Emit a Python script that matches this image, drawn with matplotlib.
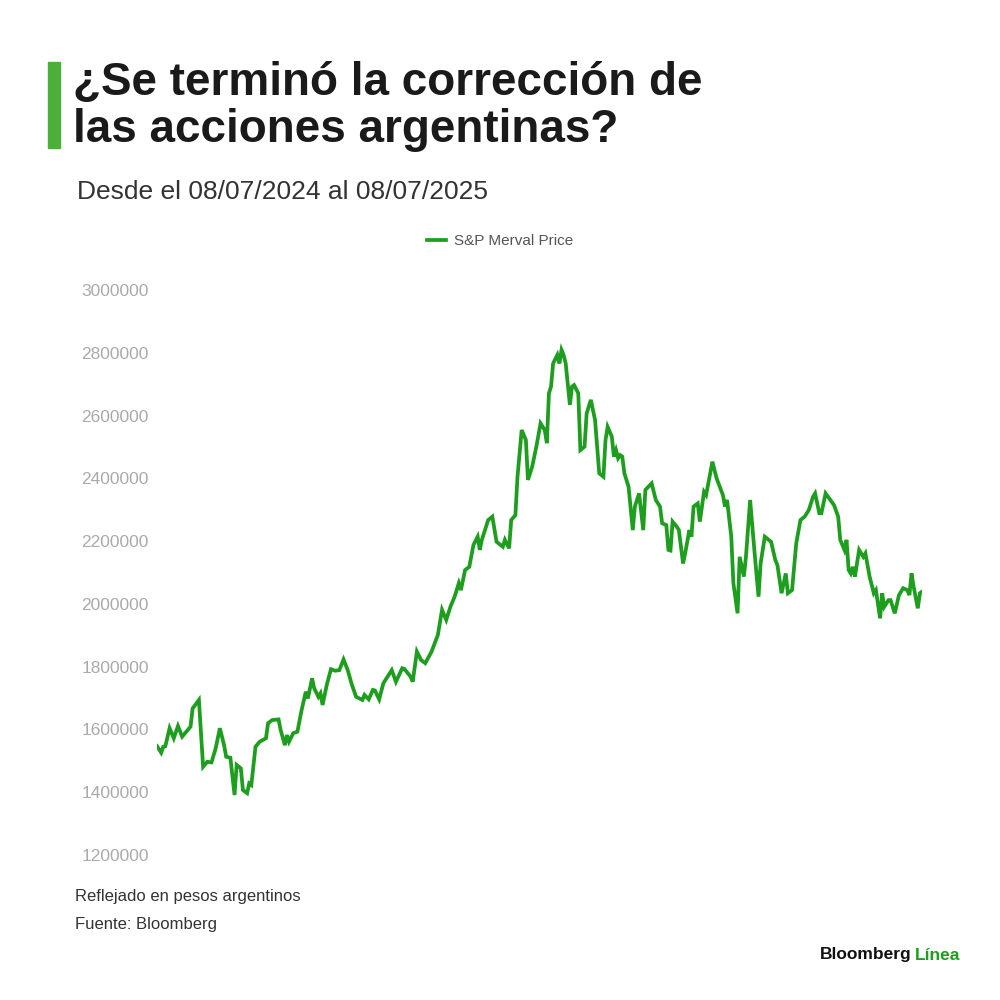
import pandas as pd
import matplotlib.pyplot as plt

# S&P Merval, days since 08/07/2024 and price in pesos
start_date = "2024-07-08"
days = [
    0, 2, 3, 4, 6, 8, 10, 12, 14, 16, 17, 20, 22, 24, 26, 28, 30, 32, 33, 35,
    37, 38, 40, 41, 43, 44, 45, 47, 49, 52, 53, 55, 58, 59, 61, 62, 63, 65, 67, 69,
    71, 72, 74, 75, 77, 78, 79, 81, 83, 85, 87, 89, 91,
    93, 95, 98, 99, 101, 103, 104, 106, 108, 110, 112, 114, 117, 118, 121, 122, 124, 126, 128, 131,
    134, 136, 138, 140, 142, 144, 145, 147, 149, 151, 153, 154, 155, 158, 160, 162, 165, 166, 168,
    169, 171, 172, 174, 176, 177, 179, 181, 183, 185, 186, 187, 188, 189, 191, 192, 193, 194, 195, 197,
    198, 199, 201, 202, 204, 205, 207, 209, 211, 213, 214, 215, 217, 218, 219, 220, 221, 222, 223, 225,
    227, 228, 230, 232, 233, 236, 238, 240, 241, 243, 244, 245, 246, 248, 249, 251, 252, 254, 255, 256,
    258,
    259, 261, 262, 265, 267, 270, 271, 272, 274, 275, 277, 278, 280, 281, 283, 285, 287, 288, 290, 293,
    295, 296, 298, 300, 301, 303, 305, 307, 309, 311, 313, 314, 316, 317, 319, 323, 325, 326, 328, 329,
    330, 331, 332, 333, 335, 337, 338, 340, 342, 343, 345, 346, 347, 349, 350, 352, 354, 356, 358, 359,
    360, 361, 363, 364, 365,
]
prices = [
    1547000, 1526000, 1545000, 1547000, 1604000, 1572000, 1611000, 1577000, 1593000, 1609000,
    1667000, 1694000, 1481000, 1497000, 1495000, 1540000, 1604000, 1550000, 1513000, 1510000,
    1391000, 1487000, 1476000, 1407000, 1397000, 1428000, 1423000, 1545000, 1561000, 1572000,
    1620000, 1630000, 1632000, 1598000, 1550000, 1582000, 1561000, 1588000, 1593000, 1662000,
    1720000, 1699000, 1763000, 1731000, 1704000, 1715000, 1678000, 1742000, 1792000, 1787000,
    1789000, 1823000, 1789000,
    1742000, 1704000, 1694000, 1710000, 1696000, 1726000, 1724000, 1696000, 1747000, 1768000,
    1789000, 1752000, 1795000, 1793000, 1768000, 1752000, 1848000, 1821000, 1811000, 1848000,
    1901000, 1981000, 1949000, 1991000, 2023000, 2066000, 2044000, 2108000, 2118000, 2188000,
    2214000, 2172000, 2204000, 2267000, 2278000, 2198000, 2182000, 2204000, 2177000,
    2267000, 2283000, 2405000, 2554000, 2522000, 2395000, 2437000, 2501000, 2575000, 2554000,
    2512000, 2671000, 2692000, 2766000, 2793000, 2766000, 2809000, 2793000, 2766000, 2634000,
    2692000, 2697000, 2671000, 2490000, 2501000, 2607000, 2650000, 2586000, 2416000, 2405000,
    2522000, 2564000, 2533000, 2469000, 2490000, 2464000, 2474000, 2469000, 2416000, 2373000,
    2235000, 2310000, 2352000, 2235000, 2363000, 2384000, 2331000, 2310000, 2257000, 2251000,
    2172000, 2170000, 2262000, 2246000, 2235000, 2129000, 2161000, 2235000, 2214000, 2310000,
    2320000,
    2262000, 2357000, 2347000, 2453000, 2400000, 2347000, 2310000, 2331000, 2214000, 2066000,
    1970000, 2150000, 2087000, 2150000, 2331000, 2172000, 2023000, 2129000, 2214000, 2198000,
    2140000, 2124000, 2034000, 2097000, 2034000, 2044000, 2193000, 2267000, 2278000, 2299000,
    2341000, 2352000, 2289000, 2289000, 2352000, 2315000, 2278000, 2204000, 2172000, 2204000,
    2108000, 2097000, 2118000, 2087000, 2172000, 2150000, 2161000, 2087000, 2034000, 2044000,
    1954000, 2034000, 1991000, 2012000, 2012000, 1970000, 2028000, 2050000, 2044000, 2028000,
    2097000, 2055000, 1986000, 2034000, 2039000,
]
yticks = list(range(1200000, 3000001, 200000))

dates = pd.Timestamp(start_date) + pd.to_timedelta(days, unit="D")

GREEN = "#1e9e1e"
BAR_GREEN = "#4caf3a"

plt.rcParams["font.family"] = ["Liberation Sans", "DejaVu Sans"]

fig = plt.figure(figsize=(10, 10), dpi=100)
fig.patch.set_facecolor("white")

# title block
fig.patches.append(plt.Rectangle((0.048, 0.852), 0.012, 0.086, transform=fig.transFigure,
                                 color=BAR_GREEN, zorder=5))
fig.text(0.073, 0.905, "¿Se terminó la corrección de", fontsize=33, fontweight="bold",
         color="#1a1a1a", va="baseline")
fig.text(0.073, 0.858, "las acciones argentinas?", fontsize=33, fontweight="bold",
         color="#1a1a1a", va="baseline")
fig.text(0.077, 0.808, "Desde el 08/07/2024 al 08/07/2025", fontsize=19,
         color="#333333", va="center")

ax = fig.add_axes([0.157, 0.145, 0.765, 0.565])
ax.plot(dates, prices, color=GREEN, lw=2.7, label="S&P Merval Price",
        solid_joinstyle="miter")
ax.set_ylim(1200000, 3000000)
ax.set_xlim(dates[0], dates[-1])
ax.set_yticks(yticks)
ax.set_yticklabels([str(v) for v in yticks])
ax.set_xticks([])
ax.tick_params(axis="y", length=0, pad=6, labelsize=12.5, labelcolor="#aaaaaa")
for s in ax.spines.values():
    s.set_visible(False)

leg = ax.legend(loc="center", bbox_to_anchor=(0.5, 0.759), bbox_transform=fig.transFigure,
                frameon=False, fontsize=11, handlelength=1.3, handletextpad=0.5)
for t in leg.get_texts():
    t.set_color("#555555")

# footer
fig.text(0.075, 0.103, "Reflejado en pesos argentinos", fontsize=12, color="#333333", va="center")
fig.text(0.075, 0.076, "Fuente: Bloomberg", fontsize=12, color="#333333", va="center")
fig.text(0.912, 0.045, "Bloomberg", fontsize=12.5, fontweight="bold", color="#111111",
         va="center", ha="right")
fig.text(0.915, 0.045, "Línea", fontsize=12.5, fontweight="bold", color=GREEN,
         va="center", ha="left")

fig.savefig("out.png", dpi=100, facecolor="white")
